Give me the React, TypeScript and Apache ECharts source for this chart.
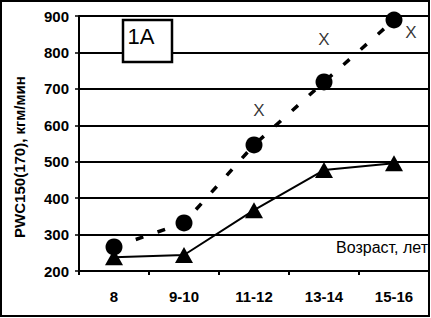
import React, { useEffect, useRef } from "react";
import * as echarts from "echarts";

const categories = ["8", "9-10", "11-12", "13-14", "15-16"];
const circleValues = [266, 332, 546, 719, 889];
const triangleValues = [238, 244, 367, 477, 496];
const crossValues: (number | null)[] = [null, null, 640, 835, 855];
const yTicks = { min: 200, max: 900, interval: 100 };
const panelLabel = "1A";
const yTitle = "PWC150(170), кгм/мин";
const xTitle = "Возраст, лет";

const FONT = "'Liberation Sans', Arial, sans-serif";

export default function App() {
  const ref = useRef<HTMLDivElement>(null);
  useEffect(() => {
    document.body.style.margin = "0";
    const chart = echarts.init(ref.current!, null, { renderer: "svg" });
    const crossOffsets = [[0, 0], [0, 0], [5, 0], [0, 0], [17, 0]];
    chart.setOption({
      animation: false,
      backgroundColor: "#fff",
      grid: { left: 79, right: 2, top: 16, bottom: 47 },
      xAxis: {
        type: "category",
        data: categories,
        boundaryGap: true,
        axisLine: { show: true, lineStyle: { color: "#000", width: 2 } },
        axisTick: { show: true, length: 4, inside: false, lineStyle: { color: "#000", width: 2 } },
        axisLabel: {
          color: "#000",
          fontFamily: FONT,
          fontWeight: "bold",
          fontSize: 15,
          margin: 18,
        },
        splitLine: { show: false },
      },
      yAxis: {
        type: "value",
        min: yTicks.min,
        max: yTicks.max,
        interval: yTicks.interval,
        axisLine: { show: true, lineStyle: { color: "#000", width: 2 } },
        axisTick: { show: true, length: 4, lineStyle: { color: "#000", width: 1.5 } },
        axisLabel: {
          color: "#000",
          fontFamily: FONT,
          fontWeight: "bold",
          fontSize: 15,
          margin: 10,
        },
        splitLine: { show: true, lineStyle: { color: "#000", width: 2 } },
      },
      series: [
        {
          type: "line",
          data: circleValues,
          symbol: "circle",
          symbolSize: 17,
          itemStyle: { color: "#000" },
          lineStyle: { color: "#000", width: 3.5, type: [8, 15] },
          z: 3,
        },
        {
          type: "line",
          data: triangleValues,
          symbol: "triangle",
          symbolSize: [18, 16],
          itemStyle: { color: "#000" },
          lineStyle: { color: "#000", width: 2 },
          z: 3,
        },
        {
          type: "scatter",
          data: crossValues.map((v, i) => ({
            value: v,
            label: { offset: crossOffsets[i] },
          })),
          symbolSize: 1,
          itemStyle: { color: "rgba(0,0,0,0)" },
          label: {
            show: true,
            position: "inside",
            formatter: "X",
            color: "#000",
            fontFamily: FONT,
            fontSize: 17,
          },
          z: 4,
        },
      ],
      graphic: [
        {
          type: "rect",
          shape: { x: 1, y: 1, width: 428, height: 315 },
          style: { fill: "none", stroke: "#000", lineWidth: 2 },
          z: 10,
        },
        {
          type: "rect",
          shape: { x: 123, y: 20, width: 49, height: 42 },
          style: { fill: "#fff", stroke: "#000", lineWidth: 2.5 },
          z: 10,
        },
        {
          type: "text",
          x: 141,
          y: 36,
          style: {
            text: panelLabel,
            fontFamily: FONT,
            fontSize: 22,
            fill: "#000",
            align: "center",
            verticalAlign: "middle",
          },
          z: 11,
        },
        {
          type: "text",
          x: 19,
          y: 157,
          rotation: Math.PI / 2,
          style: {
            text: yTitle,
            fontFamily: FONT,
            fontSize: 15,
            fontWeight: "bold",
            fill: "#000",
            align: "center",
            verticalAlign: "middle",
          },
          z: 11,
        },
        {
          type: "text",
          x: 428,
          y: 247,
          style: {
            text: xTitle,
            fontFamily: FONT,
            fontSize: 16,
            fill: "#000",
            align: "right",
            verticalAlign: "middle",
          },
          z: 11,
        },
      ],
    });
    return () => chart.dispose();
  }, []);
  return <div ref={ref} style={{ width: 431, height: 318 }} />;
}
